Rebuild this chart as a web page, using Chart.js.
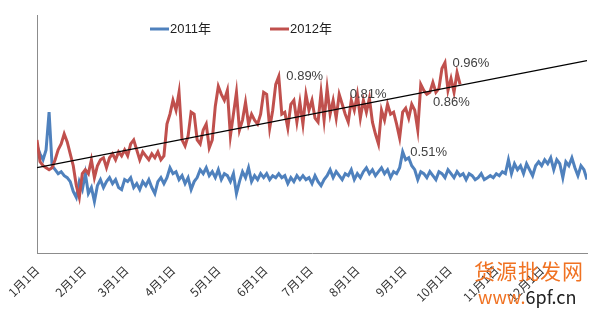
<!DOCTYPE html>
<html>
<head>
<meta charset="utf-8">
<script src="https://cdn.jsdelivr.net/npm/chart.js@4"></script>
<style>
    body { margin: 0; background: #fff; }
    #wrap { position: relative; width: 590px; height: 319px; }
    .mark { position: absolute; font-family: "Noto Sans CJK SC", sans-serif; color: #f07222; white-space: nowrap; }
</style>
</head>
<body>
<div id="wrap">
    <canvas id="chart" width="590" height="319"></canvas>
    <div class="mark" style="left:474px; top:255px; font-size:21px; letter-spacing:1px;">货源批发网</div>
    <div class="mark" style="left:478px; top:283px; font-size:18px;">www.<span style="color:#222;">6pf.cn</span></div>
</div>
<script>
// ===== DATA =====
// one value every STEP days, starting Jan 1
const STEP = 2;
const monthStartDays = [0, 31, 59, 90, 120, 151, 181, 212, 243, 273, 304, 334];
const monthLabels = ["1月1日", "2月1日", "3月1日", "4月1日", "5月1日", "6月1日",
    "7月1日", "8月1日", "9月1日", "10月1日", "11月1日", "12月1日"];

const seriesNames = ["2011年", "2012年"];

const rate2011 = [
    0.54, 0.50, 0.47, 0.52, 0.71, 0.44, 0.42, 0.40, 0.41, 0.39,
    0.38, 0.36, 0.31, 0.28, 0.36, 0.32, 0.40, 0.30, 0.33, 0.26,
    0.34, 0.37, 0.33, 0.36, 0.38, 0.35, 0.37, 0.33, 0.32, 0.37,
    0.36, 0.38, 0.33, 0.35, 0.32, 0.36, 0.34, 0.37, 0.33, 0.30,
    0.36, 0.38, 0.35, 0.38, 0.43, 0.40, 0.41, 0.37, 0.39, 0.35,
    0.38, 0.32, 0.36, 0.38, 0.42, 0.40, 0.43, 0.39, 0.41, 0.38,
    0.42, 0.37, 0.40, 0.39, 0.36, 0.40, 0.30, 0.36, 0.41, 0.38,
    0.43, 0.36, 0.39, 0.37, 0.40, 0.38, 0.40, 0.37, 0.39, 0.38,
    0.40, 0.38, 0.39, 0.35, 0.38, 0.36, 0.39, 0.37, 0.39, 0.37,
    0.38, 0.35, 0.39, 0.36, 0.34, 0.37, 0.39, 0.42, 0.38, 0.41,
    0.39, 0.37, 0.40, 0.39, 0.42, 0.37, 0.40, 0.38, 0.41, 0.43,
    0.40, 0.42, 0.39, 0.41, 0.43, 0.40, 0.42, 0.38, 0.41, 0.40,
    0.43, 0.51, 0.47, 0.48, 0.44, 0.42, 0.37, 0.41, 0.40, 0.38,
    0.41, 0.39, 0.37, 0.41, 0.40, 0.38, 0.42, 0.40, 0.38, 0.41,
    0.39, 0.40, 0.37, 0.40, 0.39, 0.37, 0.38, 0.40, 0.37, 0.38,
    0.39, 0.38, 0.40, 0.39, 0.41, 0.40, 0.47, 0.40, 0.45, 0.42,
    0.44, 0.40, 0.45, 0.42, 0.39, 0.44, 0.46, 0.44, 0.47, 0.45,
    0.48, 0.42, 0.47, 0.45, 0.38, 0.46, 0.44, 0.48, 0.43, 0.39,
    0.44, 0.42, 0.37
];

const rate2012 = [
    0.57, 0.46, 0.44, 0.43, 0.42, 0.43, 0.47, 0.52, 0.55, 0.60,
    0.56, 0.50, 0.44, 0.34, 0.28, 0.40, 0.42, 0.40, 0.47, 0.38,
    0.44, 0.47, 0.48, 0.43, 0.48, 0.50, 0.47, 0.51, 0.49, 0.52,
    0.49, 0.55, 0.57, 0.52, 0.47, 0.51, 0.49, 0.47, 0.50, 0.48,
    0.51, 0.47, 0.49, 0.65, 0.70, 0.77, 0.72, 0.81, 0.57, 0.54,
    0.59, 0.71, 0.70, 0.57, 0.55, 0.62, 0.65, 0.53, 0.57, 0.74,
    0.84, 0.80, 0.77, 0.82, 0.59, 0.70, 0.81, 0.62, 0.67, 0.76,
    0.65, 0.70, 0.67, 0.65, 0.70, 0.81, 0.80, 0.63, 0.72, 0.85,
    0.89, 0.70, 0.71, 0.63, 0.75, 0.77, 0.66, 0.76, 0.65, 0.80,
    0.72, 0.77, 0.68, 0.66, 0.81, 0.67, 0.83, 0.70, 0.77, 0.68,
    0.80, 0.75, 0.70, 0.66, 0.77, 0.72, 0.80, 0.68, 0.77, 0.71,
    0.78, 0.66, 0.60, 0.55, 0.72, 0.67, 0.75, 0.70, 0.71, 0.65,
    0.58, 0.71, 0.73, 0.68, 0.75, 0.72, 0.62, 0.85, 0.82, 0.80,
    0.81, 0.86, 0.81, 0.83, 0.93, 0.96, 0.82, 0.88, 0.81, 0.91,
    0.85
];

// linear trend of 2012, drawn over the whole year
const trendDays = [0, 364];
const trendValues = [0.43, 0.97];

// data labels written on the chart
const noteTexts = ["0.89%", "0.81%", "0.86%", "0.96%", "0.51%"];
const noteDays = [165, 207, 262, 275, 247];
const noteValues = [0.89, 0.80, 0.76, 0.955, 0.505];

const colors = ["#4f81bd", "#c0504d"];

function toPoints(values) {
    return values.map((v, i) => ({ x: i * STEP, y: v }));
}

// ===== PLUGINS =====
const notesPlugin = {
    id: "notes",
    afterDatasetsDraw(chart) {
        const { ctx, scales } = chart;
        ctx.save();
        ctx.font = "13px 'Liberation Sans', Arial, sans-serif";
        ctx.fillStyle = "#404040";
        ctx.textBaseline = "middle";
        noteTexts.forEach((t, i) => {
            ctx.fillText(t, scales.x.getPixelForValue(noteDays[i]), scales.y.getPixelForValue(noteValues[i]));
        });
        ctx.restore();
    }
};

// legend sits left of centre in the original, so draw it by hand
const legendPlugin = {
    id: "ownLegend",
    afterDraw(chart) {
        const ctx = chart.ctx;
        const starts = [150, 270];
        ctx.save();
        ctx.font = "13px 'Liberation Sans', 'Noto Sans CJK SC', sans-serif";
        ctx.textBaseline = "middle";
        seriesNames.forEach((name, i) => {
            ctx.strokeStyle = colors[i];
            ctx.lineWidth = 3;
            ctx.beginPath();
            ctx.moveTo(starts[i], 29);
            ctx.lineTo(starts[i] + 19, 29);
            ctx.stroke();
            ctx.fillStyle = "#222";
            ctx.fillText(name, starts[i] + 20, 29);
        });
        ctx.restore();
    }
};

// ===== CHART =====
new Chart(document.getElementById("chart"), {
    type: "line",
    data: {
        datasets: [
            {
                label: seriesNames[0],
                data: toPoints(rate2011),
                borderColor: colors[0],
                borderWidth: 3,
                pointRadius: 0,
                order: 3,
            },
            {
                label: seriesNames[1],
                data: toPoints(rate2012),
                borderColor: colors[1],
                borderWidth: 3,
                pointRadius: 0,
                order: 2,
            },
            {
                label: "trend",
                data: trendDays.map((d, i) => ({ x: d, y: trendValues[i] })),
                borderColor: "#000",
                borderWidth: 1.3,
                pointRadius: 0,
                order: 1,
            },
        ],
    },
    options: {
        responsive: false,
        animation: false,
        layout: { padding: { top: 15, right: 3, left: 0, bottom: 0 } },
        plugins: {
            legend: { display: false },
            tooltip: { enabled: false },
        },
        scales: {
            x: {
                type: "linear",
                min: 0,
                max: 364,
                grid: { display: false },
                border: { display: true, color: "#8c8c8c", width: 1 },
                afterBuildTicks: s => { s.ticks = monthStartDays.map(v => ({ value: v })); },
                afterFit: s => { s.height = 66; },
                ticks: {
                    autoSkip: false,
                    minRotation: 45,
                    maxRotation: 45,
                    padding: 2,
                    color: "#333",
                    font: { family: "'Noto Sans CJK SC', sans-serif", size: 12 },
                    callback: v => monthLabels[monthStartDays.indexOf(v)],
                },
            },
            y: {
                min: 0,
                max: 1.2,
                grid: { display: false },
                border: { display: true, color: "#8c8c8c", width: 1 },
                ticks: { display: false },
                afterFit: s => { s.width = 37; },
            },
        },
    },
    plugins: [notesPlugin, legendPlugin],
});
</script>
</body>
</html>
